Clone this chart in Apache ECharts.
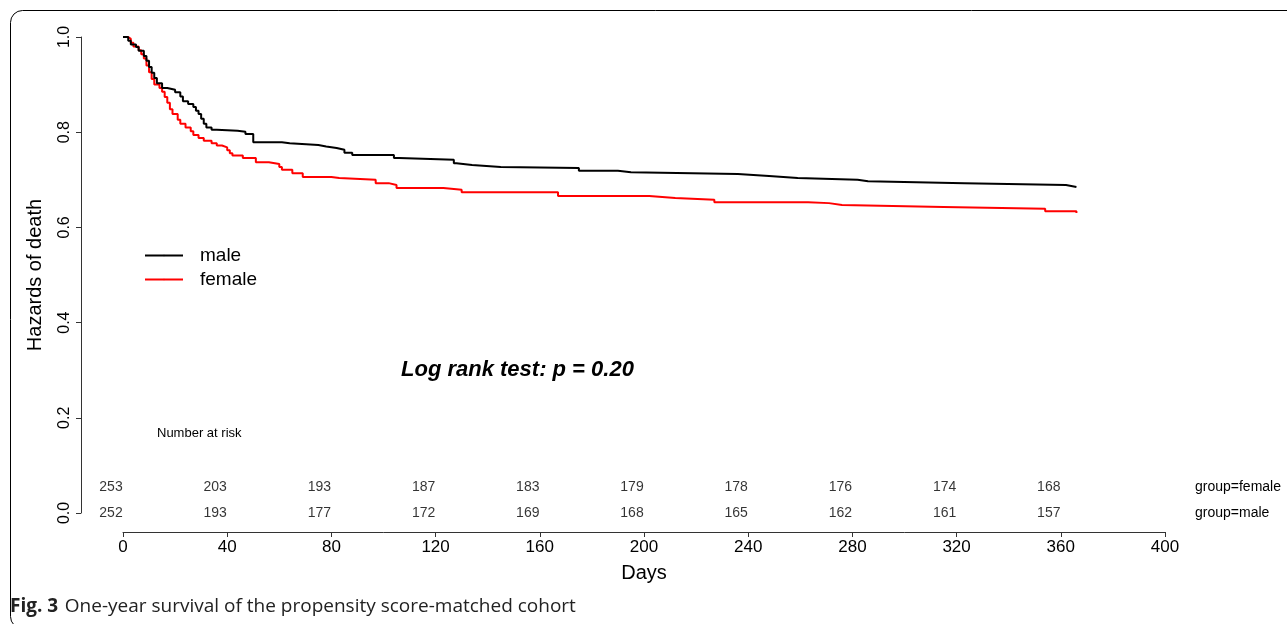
<!DOCTYPE html>
<html>
<head>
<meta charset="utf-8">
<script src="https://cdn.jsdelivr.net/npm/echarts@6/dist/echarts.min.js"></script>
<style>
  html, body { margin: 0; padding: 0; background: #fff; }
  #chart { width: 1287px; height: 624px; }
</style>
</head>
<body>
<div id="chart"></div>
<script>
// Kaplan-Meier steps: [day, survival]
var maleSteps = [
  [0, 1.0], [2, 0.992], [3, 0.984], [5, 0.979], [6, 0.971], [8, 0.960], [9, 0.950],
  [10, 0.937], [11, 0.925], [12, 0.914], [13, 0.903], [15, 0.893], [17, 0.889],
  [20, 0.884], [22, 0.875], [23, 0.865], [25, 0.859], [27, 0.853], [28, 0.845],
  [29, 0.838], [30, 0.828], [31, 0.818], [32, 0.810], [34, 0.805], [36, 0.803],
  [44, 0.801], [47, 0.796], [50, 0.779], [61, 0.777], [64, 0.773], [75, 0.770],
  [78, 0.767], [82, 0.763], [85, 0.757], [88, 0.752], [104, 0.746], [106, 0.742],
  [127, 0.735], [128, 0.731], [134, 0.727], [145, 0.725], [175, 0.719], [190, 0.716],
  [195, 0.712], [236, 0.708], [248, 0.704], [259, 0.700], [282, 0.697], [286, 0.693],
  [323, 0.689], [362, 0.685], [366, 0.685]
];
var femaleSteps = [
  [0, 1.0], [2, 0.996], [3, 0.988], [4, 0.980], [6, 0.972], [7, 0.964], [8, 0.955],
  [9, 0.940], [10, 0.926], [11, 0.912], [12, 0.900], [14, 0.893], [15, 0.885],
  [16, 0.874], [17, 0.862], [18, 0.848], [19, 0.838], [21, 0.826], [22, 0.818],
  [24, 0.810], [26, 0.802], [27, 0.794], [29, 0.788], [31, 0.782], [34, 0.777],
  [36, 0.772], [38, 0.768], [40, 0.762], [41, 0.756], [42, 0.751], [46, 0.746],
  [51, 0.737], [56, 0.733], [60, 0.727], [61, 0.721], [65, 0.714], [69, 0.706],
  [80, 0.704], [83, 0.700], [97, 0.693], [102, 0.689], [105, 0.683], [123, 0.679],
  [130, 0.674], [167, 0.666], [202, 0.662], [212, 0.658], [227, 0.653], [263, 0.651],
  [271, 0.647], [276, 0.643], [315, 0.639], [354, 0.634], [366, 0.630]
];

// number at risk table
var riskDays = [0, 40, 80, 120, 160, 200, 240, 280, 320, 360];
var riskFemale = [253, 203, 193, 187, 183, 179, 178, 176, 174, 168];
var riskMale = [252, 193, 177, 172, 169, 168, 165, 162, 161, 157];
var riskGroups = ['male', 'female'];

var xTicks = { min: 0, max: 400, interval: 40 };
var yTicks = { min: 0, max: 1, interval: 0.2 };

var riskData = [];
riskDays.forEach(function (d, i) {
  riskData.push([d, 'male', riskMale[i]]);
  riskData.push([d, 'female', riskFemale[i]]);
});

var axisColor = '#333';
var font = 'Liberation Sans, Arial, sans-serif';

var chart = echarts.init(document.getElementById('chart'));
var option = {
  animation: false,
  backgroundColor: '#fff',
  textStyle: { fontFamily: font },
  grid: [
    { left: 123, right: 122, top: 37, bottom: 111 },
    { left: 123, right: 122, top: 474, height: 52 }
  ],
  legend: {
    orient: 'vertical',
    left: 139,
    top: 241,
    itemWidth: 38,
    itemHeight: 2,
    itemGap: 5,
    data: ['male', 'female'],
    textStyle: { fontSize: 19, color: '#000', fontFamily: font, padding: [0, 0, 0, 12] }
  },
  xAxis: [
    {
      gridIndex: 0,
      type: 'value',
      min: xTicks.min, max: xTicks.max, interval: xTicks.interval,
      offset: 19,
      name: 'Days',
      nameLocation: 'middle',
      nameGap: 31,
      nameTextStyle: { fontSize: 20, color: '#000' },
      axisLine: { show: true, onZero: false, lineStyle: { color: axisColor, width: 1 } },
      axisTick: { show: true, length: 5, lineStyle: { color: axisColor } },
      axisLabel: { fontSize: 17, color: '#000', margin: 7 },
      splitLine: { show: false }
    },
    {
      gridIndex: 1,
      type: 'value',
      min: xTicks.min, max: xTicks.max,
      show: false
    }
  ],
  yAxis: [
    {
      gridIndex: 0,
      type: 'value',
      min: yTicks.min, max: yTicks.max, interval: yTicks.interval,
      offset: 42,
      name: 'Hazards of death',
      nameLocation: 'middle',
      nameGap: 36,
      nameTextStyle: { fontSize: 20, color: '#000' },
      axisLine: { show: true, onZero: false, lineStyle: { color: axisColor, width: 1 } },
      axisTick: { show: true, length: 5, lineStyle: { color: axisColor } },
      axisLabel: {
        fontSize: 16, color: '#000', rotate: 90, margin: 8,
        formatter: function (v) { return v.toFixed(1); }
      },
      splitLine: { show: false }
    },
    {
      gridIndex: 1,
      type: 'category',
      data: riskGroups,
      position: 'right',
      axisLine: { show: false },
      axisTick: { show: false },
      axisLabel: {
        fontSize: 14, color: '#000', margin: 30, align: 'left',
        formatter: function (v) { return 'group=' + v; }
      }
    }
  ],
  series: [
    {
      name: 'male',
      type: 'line',
      step: 'end',
      symbol: 'none',
      data: maleSteps,
      lineStyle: { color: '#000', width: 2 },
      itemStyle: { color: '#000' },
      z: 3
    },
    {
      name: 'female',
      type: 'line',
      step: 'end',
      symbol: 'none',
      data: femaleSteps,
      lineStyle: { color: '#ff0000', width: 2 },
      itemStyle: { color: '#ff0000' },
      z: 2
    },
    {
      type: 'scatter',
      xAxisIndex: 1,
      yAxisIndex: 1,
      symbolSize: 0,
      data: riskData,
      label: {
        show: true,
        position: 'inside',
        offset: [-12, 0],
        fontSize: 14,
        color: '#000',
        formatter: function (p) { return p.value[2]; }
      },
      silent: true
    }
  ],
  graphic: [
    {
      type: 'rect',
      shape: { x: 10.5, y: 10.5, width: 1300, height: 618, r: 12 },
      style: { fill: 'none', stroke: '#000', lineWidth: 1 },
      silent: true
    },
    {
      type: 'text',
      left: 401,
      top: 359,
      style: {
        text: 'Log rank test: p = 0.20',
        font: 'italic bold 22px Liberation Sans, Arial, sans-serif',
        fill: '#000'
      }
    },
    {
      type: 'text',
      left: 157,
      top: 427,
      style: {
        text: 'Number at risk',
        font: '13px Liberation Sans, Arial, sans-serif',
        fill: '#000'
      }
    },
    {
      type: 'text',
      left: 10,
      top: 597,
      style: {
        text: '{b|Fig. 3}  {n|One-year survival of the propensity score-matched cohort}',
        rich: {
          b: { fontFamily: 'Open Sans, Noto Sans, sans-serif', fontWeight: 'bold', fontSize: 19, fill: '#222' },
          n: { fontFamily: 'Open Sans, Noto Sans, sans-serif', fontSize: 19, fill: '#222' }
        }
      }
    }
  ]
};
chart.setOption(option);
</script>
</body>
</html>
